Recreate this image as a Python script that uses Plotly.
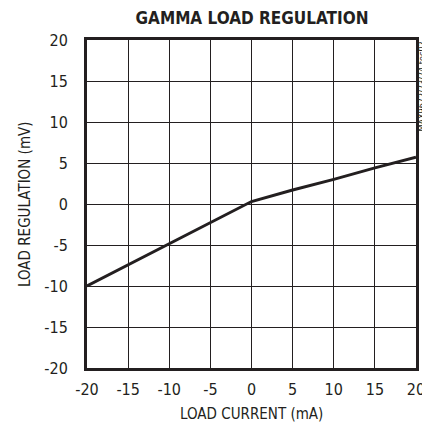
import plotly.graph_objects as go

load_current = [-20, -15, -10, -5, 0, 5, 10, 15, 20]
load_regulation = [-10.0, -7.4, -4.8, -2.2, 0.3, 1.7, 3.0, 4.4, 5.7]
x_ticks = [-20, -15, -10, -5, 0, 5, 10, 15, 20]
y_ticks = [-20, -15, -10, -5, 0, 5, 10, 15, 20]

FONT = "DejaVu Sans Condensed, Liberation Sans Narrow, sans-serif"
INK = "#231f20"

W, H = 422, 422  # page body has an 8px margin

fig = go.Figure()
fig.add_trace(go.Scatter(x=load_current, y=load_regulation, mode="lines",
                         line=dict(color=INK, width=3), showlegend=False))

fig.update_layout(
    width=W, height=H,
    margin=dict(l=79, r=14, t=32, b=62, autoexpand=False),
    paper_bgcolor="white", plot_bgcolor="white",
    font=dict(family=FONT, size=16, color=INK),
    title=dict(text="<b>GAMMA LOAD REGULATION</b>", x=244 / W, xanchor="center",
               y=1 - 10 / H, yanchor="middle", font=dict(family=FONT, size=17, color=INK)),
    xaxis=dict(range=[-20, 20], tickvals=x_ticks, ticktext=[str(v) for v in x_ticks],
               showgrid=True, gridcolor=INK, gridwidth=1, zeroline=False,
               showline=True, linecolor=INK, linewidth=3, mirror=True,
               ticks="", ticklen=0, automargin=False, ticklabelstandoff=5,
               tickfont=dict(size=16)),
    yaxis=dict(range=[-20, 20], tickvals=y_ticks, ticktext=[str(v) for v in y_ticks],
               showgrid=True, gridcolor=INK, gridwidth=1, zeroline=False,
               showline=True, linecolor=INK, linewidth=3, mirror=True,
               ticks="", ticklen=0, automargin=False, ticklabelstandoff=13,
               tickfont=dict(size=16)),
)

# axis titles
fig.add_annotation(text="LOAD CURRENT (mA)", xref="paper", yref="paper",
                   x=0.5, y=0, yanchor="middle", yshift=-46, showarrow=False,
                   font=dict(family=FONT, size=15, color=INK))
fig.add_annotation(text="LOAD REGULATION (mV)", xref="paper", yref="paper",
                   x=0, y=0.5, xanchor="center", xshift=-62, textangle=-90,
                   showarrow=False, font=dict(family=FONT, size=15, color=INK))

fig.add_annotation(text="MAX9672/73/74 toc02", xref="paper", yref="paper",
                   x=1.0, y=1.0, xanchor="center", yanchor="top", xshift=5.5,
                   textangle=-90, showarrow=False,
                   font=dict(family=FONT, size=9, color=INK))

fig.write_html("out.html")
